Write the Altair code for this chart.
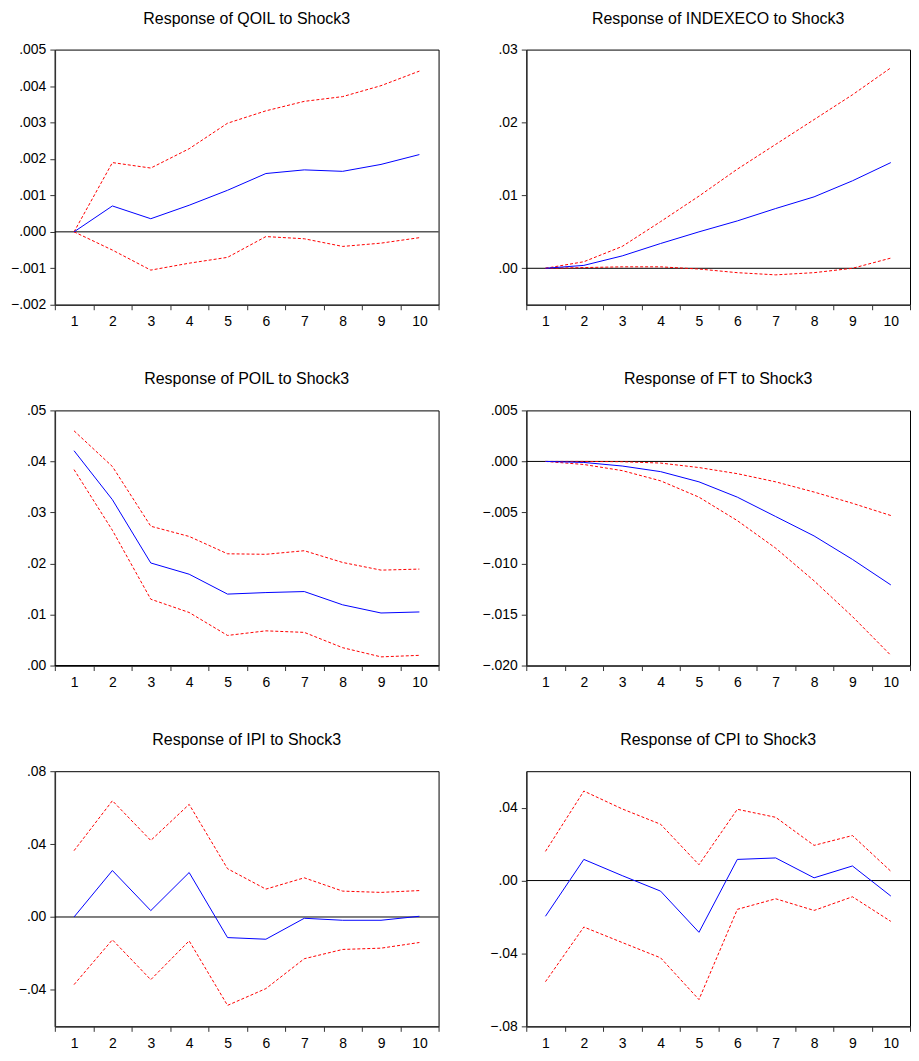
import altair as alt
import pandas as pd

steps = [1, 2, 3, 4, 5, 6, 7, 8, 9, 10]

# Response of QOIL to Shock3
qoil_resp = [0.0, 0.00071, 0.00036, 0.00073, 0.00114, 0.00160, 0.00170, 0.00166, 0.00185, 0.00212]
qoil_upper = [0.0, 0.00190, 0.00175, 0.00228, 0.00298, 0.00332, 0.00358, 0.00371, 0.00401, 0.00441]
qoil_lower = [0.0, -0.00050, -0.00105, -0.00086, -0.00070, -0.00013, -0.00019, -0.00040, -0.00031, -0.00016]

# Response of INDEXECO to Shock3
indexeco_resp = [0.0, 0.0004, 0.0017, 0.0034, 0.0050, 0.0065, 0.0082, 0.0098, 0.0120, 0.0145]
indexeco_upper = [0.0, 0.0009, 0.0030, 0.0064, 0.0099, 0.0136, 0.0170, 0.0204, 0.0238, 0.0275]
indexeco_lower = [0.0, 0.0001, 0.0002, 0.0002, -0.0001, -0.0006, -0.0009, -0.0006, 0.0000, 0.0014]

# Response of POIL to Shock3
poil_resp = [0.0421, 0.0325, 0.0201, 0.0179, 0.0140, 0.0143, 0.0145, 0.0119, 0.0103, 0.0105]
poil_upper = [0.0460, 0.0390, 0.0273, 0.0253, 0.0219, 0.0218, 0.0225, 0.0202, 0.0187, 0.0189]
poil_lower = [0.0384, 0.0265, 0.0130, 0.0104, 0.0059, 0.0068, 0.0065, 0.0035, 0.0017, 0.0020]

# Response of FT to Shock3
ft_resp = [0.0, -0.0001, -0.00045, -0.0010, -0.0020, -0.0035, -0.0054, -0.0073, -0.0096, -0.0121]
ft_upper = [0.0, 0.0, -0.00003, -0.00016, -0.0006, -0.0012, -0.0020, -0.0030, -0.0041, -0.0053]
ft_lower = [0.0, -0.0003, -0.0009, -0.0019, -0.0035, -0.0058, -0.0085, -0.0117, -0.0152, -0.0190]

# Response of IPI to Shock3
ipi_resp = [0.0, 0.0255, 0.0035, 0.0244, -0.0113, -0.0122, -0.0007, -0.0018, -0.0018, 0.0004]
ipi_upper = [0.0364, 0.0638, 0.0420, 0.0618, 0.0265, 0.0153, 0.0215, 0.0142, 0.0135, 0.0145]
ipi_lower = [-0.0371, -0.0125, -0.0344, -0.0131, -0.0485, -0.0393, -0.0229, -0.0178, -0.0171, -0.0140]

# Response of CPI to Shock3
cpi_resp = [-0.0196, 0.0116, 0.0027, -0.0058, -0.0284, 0.0116, 0.0124, 0.0015, 0.0080, -0.0085]
cpi_upper = [0.0160, 0.0491, 0.0393, 0.0309, 0.0087, 0.0391, 0.0347, 0.0193, 0.0247, 0.0051]
cpi_lower = [-0.0555, -0.0255, -0.0340, -0.0424, -0.0653, -0.0158, -0.0100, -0.0164, -0.0089, -0.0224]

panels = [
    ("Response of QOIL to Shock3", qoil_resp, qoil_lower, qoil_upper, [-0.002, 0.005],
     [-0.002, -0.001, 0.0, 0.001, 0.002, 0.003, 0.004, 0.005], ".3f", 3),
    ("Response of INDEXECO to Shock3", indexeco_resp, indexeco_lower, indexeco_upper, [-0.005, 0.03],
     [0.0, 0.01, 0.02, 0.03], ".2f", 3),
    ("Response of POIL to Shock3", poil_resp, poil_lower, poil_upper, [0.0, 0.05],
     [0.0, 0.01, 0.02, 0.03, 0.04, 0.05], ".2f", 3),
    ("Response of FT to Shock3", ft_resp, ft_lower, ft_upper, [-0.02, 0.005],
     [-0.02, -0.015, -0.01, -0.005, 0.0, 0.005], ".3f", 3),
    ("Response of IPI to Shock3", ipi_resp, ipi_lower, ipi_upper, [-0.06, 0.08],
     [-0.04, 0.0, 0.04, 0.08], ".2f", 3),
    ("Response of CPI to Shock3", cpi_resp, cpi_lower, cpi_upper, [-0.08, 0.06],
     [-0.08, -0.04, 0.0, 0.04], ".2f", 10),
]

FONT = "Liberation Sans"


def make_panel(title, resp, lower, upper, domain, ticks, fmt, title_offset):
    df = pd.DataFrame({"step": steps, "resp": resp, "lower": lower, "upper": upper})
    x = alt.X(
        "step:O",
        scale=alt.Scale(type="band", paddingInner=0, paddingOuter=0),
        axis=alt.Axis(title=None, labelAngle=0, tickBand="extent"),
    )
    yscale = alt.Scale(domain=domain, nice=False, zero=False)
    yaxis = alt.Axis(
        title=None,
        values=ticks,
        labelExpr=f"replace(format(datum.value, '{fmt}'), '0.', '.')",
    )
    base = alt.Chart(df)
    zero = alt.Chart(pd.DataFrame({"z": [0.0]})).mark_rule(color="black", strokeWidth=1).encode(
        y=alt.Y("z:Q", scale=yscale, axis=yaxis)
    )
    up = base.mark_line(color="#ff0000", strokeWidth=1, strokeDash=[3, 2]).encode(
        x=x, y=alt.Y("upper:Q", scale=yscale, axis=yaxis)
    )
    lo = base.mark_line(color="#ff0000", strokeWidth=1, strokeDash=[3, 2]).encode(
        x=x, y=alt.Y("lower:Q", scale=yscale, axis=yaxis)
    )
    mid = base.mark_line(color="#0000ff", strokeWidth=1).encode(
        x=x, y=alt.Y("resp:Q", scale=yscale, axis=yaxis)
    )
    return alt.layer(zero, up, lo, mid).properties(
        width=385,
        height=256,
        title=alt.TitleParams(
            text=title,
            anchor="middle",
            frame="group",
            baseline="alphabetic",
            offset=title_offset,
            fontSize=16,
            fontWeight="normal",
            font=FONT,
            color="black",
        ),
    )


charts = [make_panel(*p) for p in panels]

chart = (
    alt.concat(*charts, columns=2, spacing={"row": 106, "column": 88}, bounds="flush")
    .properties(padding={"left": 2, "top": 0, "right": 0, "bottom": -2})
    .configure_view(stroke="black", strokeWidth=1)
    .configure_axis(
        grid=False,
        labelFont=FONT,
        labelFontSize=14,
        labelColor="black",
        domainColor="#333333",
        domainWidth=1.5,
        tickColor="#333333",
        tickSize=5,
        tickWidth=1,
        labelPadding=4,
    )
    .configure_axisX(labelPadding=5)
)

chart.save("out.html", embed_options={"renderer": "svg", "actions": False})
